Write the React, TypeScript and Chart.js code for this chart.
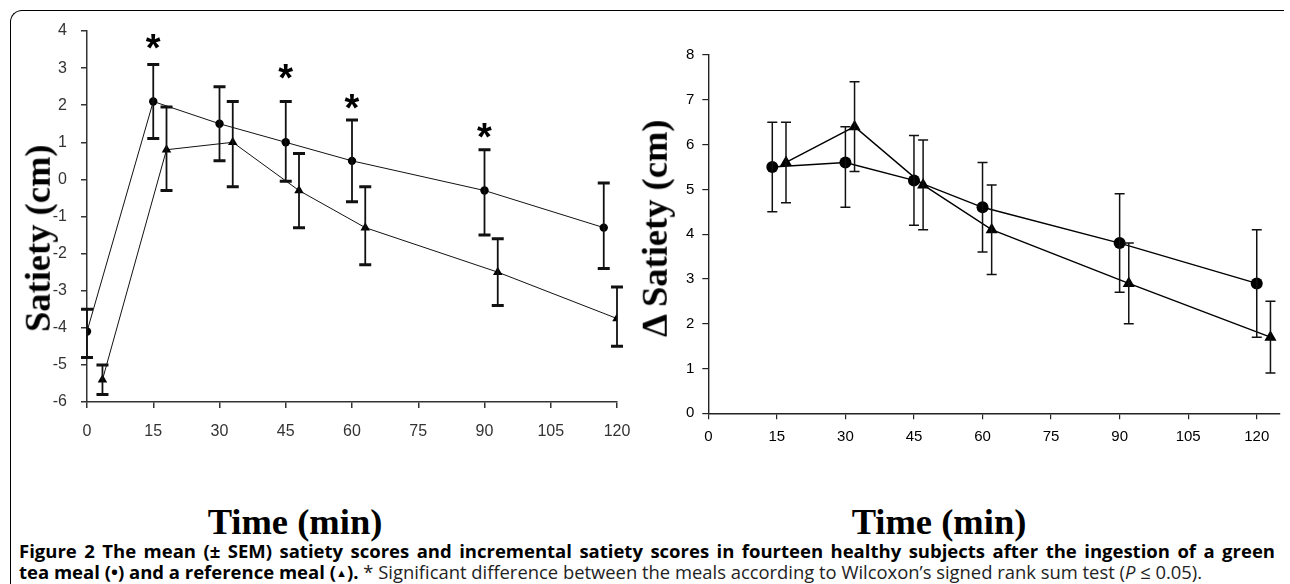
import React, { useEffect, useRef } from 'react';
import { Chart, registerables } from 'chart.js';

Chart.register(...registerables);

// ---------- Left panel: satiety scores ----------
const leftTeaTimes = [0, 15, 30, 45, 60, 90, 117];
const leftTeaMean = [-4.1, 2.1, 1.5, 1.0, 0.5, -0.3, -1.3];
const leftTeaUpper = [-3.5, 3.1, 2.5, 2.1, 1.6, 0.8, -0.1];
const leftTeaLower = [-4.8, 1.1, 0.5, -0.05, -0.6, -1.5, -2.4];

const leftRefTimes = [3.5, 18, 33, 48, 63, 93, 120];
const leftRefMean = [-5.4, 0.8, 1.0, -0.3, -1.3, -2.5, -3.75];
const leftRefUpper = [-5.0, 1.95, 2.1, 0.7, -0.2, -1.6, -2.9];
const leftRefLower = [-5.8, -0.3, -0.2, -1.3, -2.3, -3.4, -4.5];

const starTimes = [15, 45, 60, 90];
const starLevels = [3.78, 2.98, 2.18, 1.4];

// ---------- Right panel: incremental satiety ----------
const rightTeaTimes = [14, 30, 45, 60, 90, 120];
const rightTeaMean = [5.5, 5.6, 5.2, 4.6, 3.8, 2.9];
const rightTeaUpper = [6.5, 6.4, 6.2, 5.6, 4.9, 4.1];
const rightTeaLower = [4.5, 4.6, 4.2, 3.6, 2.7, 1.7];

const rightRefTimes = [17, 32, 47, 62, 92, 123];
const rightRefMean = [5.6, 6.4, 5.1, 4.1, 2.9, 1.7];
const rightRefUpper = [6.5, 7.4, 6.1, 5.1, 3.8, 2.5];
const rightRefLower = [4.7, 5.4, 4.1, 3.1, 2.0, 0.9];

const xTickLabels = [0, 15, 30, 45, 60, 75, 90, 105, 120];

const toPoints = (xs: number[], ys: number[]) => xs.map((x, i) => ({ x, y: ys[i] }));

const errorBarPlugin = {
  id: 'errorBars',
  afterDatasetsDraw(chart: any) {
    const ctx = chart.ctx;
    const xs = chart.scales.x;
    const ys = chart.scales.y;
    chart.data.datasets.forEach((ds: any) => {
      const up: number[] = ds.errUpper;
      const lo: number[] = ds.errLower;
      if (!up || !lo) return;
      ds.data.forEach((p: any, i: number) => {
        const x = xs.getPixelForValue(p.x);
        const yU = ys.getPixelForValue(up[i]);
        const yL = ys.getPixelForValue(lo[i]);
        ctx.save();
        ctx.strokeStyle = ds.errColor;
        ctx.lineWidth = ds.errWidth;
        ctx.beginPath();
        ctx.moveTo(x, yU);
        ctx.lineTo(x, yL);
        ctx.stroke();
        ctx.lineWidth = ds.capThickness;
        const hw = ds.capHalf;
        ctx.beginPath();
        ctx.moveTo(x - hw, yU);
        ctx.lineTo(x + hw, yU);
        ctx.moveTo(x - hw, yL);
        ctx.lineTo(x + hw, yL);
        ctx.stroke();
        ctx.restore();
      });
    });
  },
};

const starPlugin = {
  id: 'stars',
  afterDatasetsDraw(chart: any) {
    const ctx = chart.ctx;
    const xs = chart.scales.x;
    const ys = chart.scales.y;
    const size = 38;
    ctx.save();
    ctx.fillStyle = '#000';
    ctx.font = `bold ${size}px "Liberation Sans", Arial, sans-serif`;
    ctx.textAlign = 'center';
    ctx.textBaseline = 'alphabetic';
    starTimes.forEach((t, i) => {
      const x = xs.getPixelForValue(t);
      const y = ys.getPixelForValue(starLevels[i]);
      ctx.fillText('*', x, y + 0.58 * size);
    });
    ctx.restore();
  },
};

const tickFont = (size: number) => ({ family: '"Liberation Sans", Arial, sans-serif', size });
const fixedXTicks = (s: any) => {
  s.ticks = xTickLabels.map((v) => ({ value: v }));
};

function LeftChart() {
  const ref = useRef<HTMLCanvasElement>(null);
  useEffect(() => {
    if (!ref.current) return;
    const axisColor = '#333';
    const chart = new Chart(ref.current, {
      type: 'line',
      data: {
        datasets: [
          {
            data: toPoints(leftTeaTimes, leftTeaMean),
            borderColor: '#111',
            borderWidth: 1,
            pointStyle: 'circle',
            pointRadius: 4.2,
            pointBackgroundColor: '#000',
            pointBorderWidth: 0,
            errUpper: leftTeaUpper,
            errLower: leftTeaLower,
            errColor: '#111',
            errWidth: 1.8,
            capThickness: 3,
            capHalf: 6,
          } as any,
          {
            data: toPoints(leftRefTimes, leftRefMean),
            borderColor: '#111',
            borderWidth: 1,
            pointStyle: 'triangle',
            pointRadius: 5.5,
            pointBackgroundColor: '#000',
            pointBorderWidth: 0,
            errUpper: leftRefUpper,
            errLower: leftRefLower,
            errColor: '#111',
            errWidth: 1.8,
            capThickness: 3,
            capHalf: 6,
          } as any,
        ],
      },
      options: {
        animation: false,
        responsive: false,
        maintainAspectRatio: false,
        layout: { padding: { top: 31, right: 33, left: 0, bottom: 0 } },
        plugins: { legend: { display: false }, tooltip: { enabled: false }, title: { display: false } },
        scales: {
          x: {
            type: 'linear',
            min: 0,
            max: 120,
            afterBuildTicks: fixedXTicks,
            ticks: { color: axisColor, font: tickFont(16), padding: 14 },
            grid: { drawOnChartArea: false, drawTicks: true, tickLength: 6, color: axisColor, lineWidth: 1.5 },
            border: { display: true, color: axisColor, width: 1.5 },
            afterFit: (s: any) => { s.height = 68; },
          },
          y: {
            type: 'linear',
            min: -6,
            max: 4,
            ticks: { stepSize: 1, color: axisColor, font: tickFont(16), padding: 14 },
            grid: { drawOnChartArea: false, drawTicks: true, tickLength: 6, color: axisColor, lineWidth: 1.5 },
            border: { display: true, color: axisColor, width: 1.5 },
            afterFit: (s: any) => { s.width = 87; },
          },
        },
      },
      plugins: [errorBarPlugin, starPlugin],
    } as any);
    return () => chart.destroy();
  }, []);
  return (
    <canvas
      ref={ref}
      width={650}
      height={470}
      style={{ position: 'absolute', left: 0, top: 0, width: 650, height: 470 }}
    />
  );
}

function RightChart() {
  const ref = useRef<HTMLCanvasElement>(null);
  useEffect(() => {
    if (!ref.current) return;
    const axisColor = '#222';
    const chart = new Chart(ref.current, {
      type: 'line',
      data: {
        datasets: [
          {
            data: toPoints(rightTeaTimes, rightTeaMean),
            borderColor: '#000',
            borderWidth: 1.4,
            pointStyle: 'circle',
            pointRadius: 6,
            pointBackgroundColor: '#000',
            pointBorderWidth: 0,
            errUpper: rightTeaUpper,
            errLower: rightTeaLower,
            errColor: '#111',
            errWidth: 1.5,
            capThickness: 1.5,
            capHalf: 5,
          } as any,
          {
            data: toPoints(rightRefTimes, rightRefMean),
            borderColor: '#000',
            borderWidth: 1.4,
            pointStyle: 'triangle',
            pointRadius: 7,
            pointBackgroundColor: '#000',
            pointBorderWidth: 0,
            errUpper: rightRefUpper,
            errLower: rightRefLower,
            errColor: '#111',
            errWidth: 1.5,
            capThickness: 1.5,
            capHalf: 5,
          } as any,
        ],
      },
      options: {
        animation: false,
        responsive: false,
        maintainAspectRatio: false,
        layout: { padding: { top: 55, right: 10.4, left: 0, bottom: 0 } },
        plugins: { legend: { display: false }, tooltip: { enabled: false }, title: { display: false } },
        scales: {
          x: {
            type: 'linear',
            min: 0,
            max: 125,
            afterBuildTicks: fixedXTicks,
            ticks: { color: '#000', font: tickFont(15), padding: 9 },
            grid: { drawOnChartArea: false, drawTicks: true, tickLength: 6, color: axisColor, lineWidth: 1.2 },
            border: { display: true, color: axisColor, width: 1.4 },
            afterFit: (s: any) => { s.height = 56.7; },
          },
          y: {
            type: 'linear',
            min: 0,
            max: 8,
            ticks: { stepSize: 1, color: '#000', font: tickFont(15), padding: 8 },
            grid: { drawOnChartArea: false, drawTicks: true, tickLength: 6, color: axisColor, lineWidth: 1.2 },
            border: { display: true, color: axisColor, width: 1.4 },
            afterFit: (s: any) => { s.width = 68.3; },
          },
        },
      },
      plugins: [errorBarPlugin],
    } as any);
    return () => chart.destroy();
  }, []);
  return (
    <canvas
      ref={ref}
      width={650}
      height={470}
      style={{ position: 'absolute', left: 640, top: 0, width: 650, height: 470 }}
    />
  );
}

const TITLE_SIZE = 36.5;

const serifTitle: React.CSSProperties = {
  position: 'absolute',
  fontFamily: '"Liberation Serif", "Times New Roman", serif',
  fontWeight: 'bold',
  fontSize: TITLE_SIZE,
  lineHeight: `${TITLE_SIZE}px`,
  height: TITLE_SIZE,
  width: 320,
  textAlign: 'center',
  color: '#000',
  whiteSpace: 'nowrap',
};

function VTitle({ cx, cy, text }: { cx: number; cy: number; text: string }) {
  return (
    <div
      style={{
        ...serifTitle,
        left: cx - 160,
        top: cy - TITLE_SIZE / 2,
        transform: 'rotate(-90deg)',
        transformOrigin: '50% 50%',
      }}
    >
      {text}
    </div>
  );
}

function HTitle({ cx, baseline, text }: { cx: number; baseline: number; text: string }) {
  return <div style={{ ...serifTitle, left: cx - 160, top: baseline - 0.8375 * TITLE_SIZE }}>{text}</div>;
}

const captionFont = '"Open Sans", "Noto Sans", sans-serif';

export default function App() {
  return (
    <div
      style={{
        position: 'absolute',
        left: 0,
        top: 0,
        width: 1290,
        height: 584,
        overflow: 'hidden',
        background: '#fff',
      }}
    >
      <div
        style={{
          position: 'absolute',
          left: 10,
          top: 10,
          width: 1274,
          height: 620,
          borderTop: '1.5px solid #000',
          borderLeft: '1.5px solid #000',
          borderTopLeftRadius: 12,
          boxSizing: 'border-box',
        }}
      />
      <LeftChart />
      <RightChart />
      <VTitle cx={38} cy={238} text="Satiety (cm)" />
      <VTitle cx={655} cy={228} text="Δ Satiety (cm)" />
      <HTitle cx={295} baseline={535} text="Time (min)" />
      <HTitle cx={939} baseline={535} text="Time (min)" />
      <div
        style={{
          position: 'absolute',
          left: 19,
          top: 540,
          width: 1256,
          fontFamily: captionFont,
          lineHeight: '21px',
          color: '#000',
        }}
      >
        <div
          style={{
            fontWeight: 'bold',
            fontSize: 18.5,
            textAlign: 'justify',
            textAlignLast: 'justify',
            whiteSpace: 'nowrap',
          } as any}
        >
          Figure 2 The mean (± SEM) satiety scores and incremental satiety scores in fourteen healthy subjects after the ingestion of a green
        </div>
        <div style={{ whiteSpace: 'nowrap' }}>
          <span style={{ fontWeight: 'bold', fontSize: 18.5 }}>
            tea meal (•) and a reference meal (<span style={{ fontSize: '0.6em', verticalAlign: '0.2em' }}>▲</span>).
          </span>
          <span style={{ color: '#222', fontSize: 18.4 }}>
            {' '}* Significant difference between the meals according to Wilcoxon’s signed rank sum test (<i>P</i> ≤ 0.05).
          </span>
        </div>
      </div>
    </div>
  );
}
